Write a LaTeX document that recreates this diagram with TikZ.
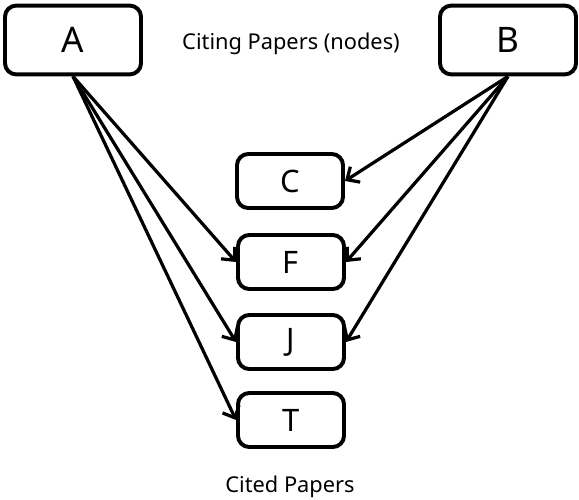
\documentclass[tikz,border=0pt]{standalone}
\usepackage{fontspec}
\setmainfont{Noto Sans}
\usetikzlibrary{arrows.meta}

\begin{document}
\begin{tikzpicture}[x=0.025cm,y=-0.025cm,
	paper/.style={shape=rectangle,draw=black,line width=2.8pt,rounded corners=8pt,
		minimum width=3.4cm,minimum height=1.72cm,font=\fontsize{25}{28}\selectfont},
	cited/.style={shape=rectangle,draw=black,line width=2.8pt,rounded corners=8pt,
		minimum width=2.65cm,minimum height=1.35cm,font=\fontsize{22}{26}\selectfont},
	caption/.style={font=\fontsize{15.5}{18}\selectfont},
	cite/.style={line width=2.3pt,-{Straight Barb[length=7pt,width=13pt,line width=2.3pt]}}]
	
	\useasboundingbox (0,0) rectangle (579,500);
	
	\node[paper] (a) at (73, 40)  {A};
	\node[paper] (b) at (508, 40) {B};
	\node[cited] (c) at (290, 181) {C};
	\node[cited] (f) at (291, 262) {F};
	\node[cited] (j) at (291, 342) {J};
	\node[cited] (t) at (291, 420) {T};
	\node[caption] (citing) at (291, 44) {Citing Papers (nodes)};
	\node[caption] (cited)  at (290, 487) {Cited Papers};
	\path[cite] (a.south) edge (f.west);
	\path[cite] (a.south) edge (j.west);
	\path[cite] (a.south) edge (t.west);
	\path[cite] (b.south) edge (c.east);
	\path[cite] (b.south) edge (f.east);
	\path[cite] (b.south) edge (j.east);
	
\end{tikzpicture}
\end{document}
